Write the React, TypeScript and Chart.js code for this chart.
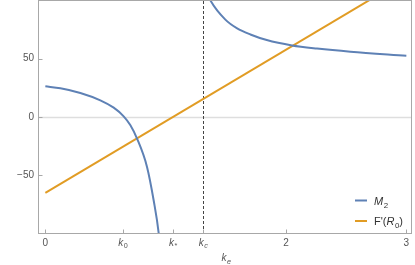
import { useEffect, useRef } from 'react';
import { Chart, registerables } from 'chart.js';

Chart.register(...registerables);

// ---- data ----
const m2LeftX = [0, 0.125, 0.291, 0.457, 0.568, 0.651, 0.707, 0.762, 0.845, 0.9, 0.942, 0.955];
const m2LeftY = [26.3, 24.6, 20.6, 14.3, 8.0, 0.6, -7.1, -18.5, -42.8, -71.4, -99.7, -115];
const m2RightX = [1.355, 1.372, 1.496, 1.594, 1.704, 1.84, 2.05, 2.258, 2.535, 3.0];
const m2RightY = [104, 100, 83.5, 76, 70.8, 66, 61.4, 58.7, 56.0, 52.6];
const fX = [0, 3];
const fY = [-65.1, 119.1];

const xTickValues = [0, 0.643, 1.061, 1.311, 2, 3];
const xTickLabels = ['0', 'k_0', 'k_*', 'k_c', '2', '3'];
const yTickValues = [-50, 0, 50];
const kcValue = 1.311;

const seriesLabels = ['M_2', "F'(R_0)"];
const BLUE = '#5E81B5';
const ORANGE = '#E19C24';
const FONT = "'Liberation Sans', Arial, sans-serif";

type Part = { text: string; italic?: boolean; sub?: boolean };

function drawRich(ctx: CanvasRenderingContext2D, parts: Part[], x: number, y: number, size: number, align: 'center' | 'left', color: string) {
  const subSize = size * 0.72;
  const fontFor = (p: Part) => `${p.italic ? 'italic ' : ''}${p.sub ? subSize : size}px ${FONT}`;
  let total = 0;
  const widths = parts.map((p) => {
    ctx.font = fontFor(p);
    const w = ctx.measureText(p.text).width;
    total += w;
    return w;
  });
  let cx = align === 'center' ? x - total / 2 : x;
  ctx.save();
  ctx.fillStyle = color;
  ctx.textBaseline = 'alphabetic';
  ctx.textAlign = 'left';
  parts.forEach((p, i) => {
    ctx.font = fontFor(p);
    ctx.fillText(p.text, cx, p.sub ? y + size * 0.28 : y);
    cx += widths[i] + (p.italic && !p.sub ? 0.5 : 0);
  });
  ctx.restore();
}

function kParts(label: string): Part[] {
  const [main, sub] = label.split('_');
  return [
    { text: main, italic: true },
    { text: sub, sub: true, italic: /[a-z]/.test(sub) },
  ];
}

const legendParts: Part[][] = [
  [{ text: 'M', italic: true }, { text: '2', sub: true }],
  [{ text: "F'(" }, { text: 'R', italic: true }, { text: '0', sub: true }, { text: ')' }],
];

const decorPlugin = {
  id: 'decor',
  beforeDatasetsDraw(chart: any) {
    const { ctx, chartArea, scales } = chart;
    const { left, right, top, bottom } = chartArea;
    ctx.save();
    const y0 = Math.round(scales.y.getPixelForValue(0)) + 0.5;
    ctx.strokeStyle = '#dedede';
    ctx.lineWidth = 1.5;
    ctx.beginPath();
    ctx.moveTo(left, y0);
    ctx.lineTo(right, y0);
    ctx.stroke();
    const xc = Math.round(scales.x.getPixelForValue(kcValue)) + 0.5;
    ctx.strokeStyle = '#444';
    ctx.lineWidth = 1;
    ctx.setLineDash([3, 2]);
    ctx.beginPath();
    ctx.moveTo(xc, top);
    ctx.lineTo(xc, bottom);
    ctx.stroke();
    ctx.restore();
  },
  afterDraw(chart: any) {
    const { ctx, chartArea, scales } = chart;
    const { left, right, top, bottom } = chartArea;
    ctx.save();
    ctx.strokeStyle = '#a8a8a8';
    ctx.lineWidth = 1;
    const l = Math.round(left) + 0.5;
    const r = Math.round(right) - 0.5;
    const t = Math.round(top) - 0.5;
    const b = Math.round(bottom) + 0.5;
    ctx.strokeRect(l, t, r - l, b - t);
    ctx.beginPath();
    xTickValues.forEach((v) => {
      const px = Math.round(scales.x.getPixelForValue(v)) + 0.5;
      ctx.moveTo(px, b);
      ctx.lineTo(px, b - 4);
    });
    yTickValues.forEach((v) => {
      const py = Math.round(scales.y.getPixelForValue(v)) + 0.5;
      ctx.moveTo(l, py);
      ctx.lineTo(l + 4, py);
    });
    ctx.stroke();
    xTickLabels.forEach((lab, i) => {
      if (!lab.includes('_')) return;
      const px = scales.x.getPixelForValue(xTickValues[i]);
      drawRich(ctx, kParts(lab), px, b + 12, 10, 'center', '#555');
    });
    drawRich(ctx, kParts('k_e'), (left + right) / 2 + 1, 261, 10, 'center', '#555');
    const colors = chart.data.datasets.map((d: any) => d.borderColor);
    const rows = [200.5, 221];
    rows.forEach((yy, i) => {
      ctx.strokeStyle = colors[i];
      ctx.lineWidth = 2;
      ctx.setLineDash([]);
      ctx.beginPath();
      ctx.moveTo(355, yy);
      ctx.lineTo(367, yy);
      ctx.stroke();
      drawRich(ctx, legendParts[i], 374, yy + 4, 11, 'left', '#333');
    });
    ctx.restore();
  },
};

export default function App() {
  const ref = useRef<HTMLCanvasElement | null>(null);
  useEffect(() => {
    document.body.style.margin = '0';
    const m2Data = [
      ...m2LeftX.map((x, i) => ({ x, y: m2LeftY[i] })),
      { x: 1.15, y: null },
      ...m2RightX.map((x, i) => ({ x, y: m2RightY[i] })),
    ];
    const fData = fX.map((x, i) => ({ x, y: fY[i] }));
    const chart = new Chart(ref.current as HTMLCanvasElement, {
      type: 'line',
      data: {
        datasets: [
          {
            label: seriesLabels[0],
            data: m2Data as any,
            borderColor: BLUE,
            borderWidth: 2,
            pointRadius: 0,
            cubicInterpolationMode: 'monotone',
            spanGaps: false,
          },
          {
            label: seriesLabels[1],
            data: fData,
            borderColor: ORANGE,
            borderWidth: 2,
            pointRadius: 0,
          },
        ],
      },
      options: {
        responsive: false,
        animation: false,
        layout: { padding: { top: 1, right: 3, left: 0, bottom: 0 } },
        plugins: { legend: { display: false }, tooltip: { enabled: false } },
        scales: {
          x: {
            type: 'linear',
            min: -0.061,
            max: 3.047,
            afterBuildTicks: (s: any) => {
              s.ticks = xTickValues.map((v) => ({ value: v }));
            },
            afterFit: (s: any) => {
              s.height = 32;
              s.paddingLeft = 0;
              s.paddingRight = 0;
            },
            grid: { display: false, drawTicks: false },
            border: { display: false },
            ticks: {
              autoSkip: false,
              maxRotation: 0,
              padding: 4,
              color: '#555',
              font: { family: FONT, size: 10 },
              callback: (v: any) => {
                const i = xTickValues.indexOf(Number(v));
                const lab = i >= 0 ? xTickLabels[i] : '';
                return lab.includes('_') ? '' : lab;
              },
            },
          },
          y: {
            type: 'linear',
            min: -99.5,
            max: 99.5,
            afterBuildTicks: (s: any) => {
              s.ticks = yTickValues.map((v) => ({ value: v }));
            },
            afterFit: (s: any) => {
              s.width = 38;
              s.paddingTop = 0;
              s.paddingBottom = 0;
            },
            grid: { display: false, drawTicks: false },
            border: { display: false },
            ticks: {
              padding: 4,
              color: '#555',
              font: { family: FONT, size: 10 },
              callback: (v: any) => String(v).replace('-', '\u2212'),
            },
          },
        },
      },
      plugins: [decorPlugin],
    });
    return () => chart.destroy();
  }, []);
  return (
    <div style={{ width: 415, height: 265 }}>
      <canvas ref={ref} width={415} height={265} />
    </div>
  );
}
